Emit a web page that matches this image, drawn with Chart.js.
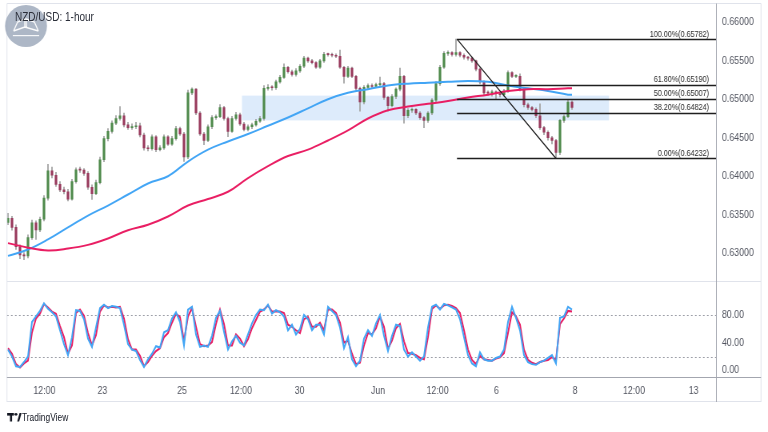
<!DOCTYPE html>
<html><head><meta charset="utf-8">
<script src="https://cdn.jsdelivr.net/npm/chart.js@4.4.0/dist/chart.umd.min.js"></script>
<style>
html,body{margin:0;padding:0;background:#fff;width:768px;height:432px;overflow:hidden;}
#wrap{position:absolute;left:0;top:0;width:960px;height:432px;transform:scaleX(0.8);transform-origin:0 0;}
#c1{position:absolute;left:0;top:0;}
#c2{position:absolute;left:0;top:282px;}
#title{position:absolute;left:18.75px;top:11px;font-size:12.5px;line-height:12.5px;font-family:'Liberation Sans',Arial,sans-serif;color:#2a2e39;white-space:nowrap;}
#tv{position:absolute;left:27.5px;top:412px;font-size:10.5px;line-height:10.5px;font-family:'Liberation Sans',Arial,sans-serif;color:#131722;white-space:nowrap;}
</style></head>
<body>
<div id="wrap">
<canvas id="c1" width="960" height="282"></canvas>
<canvas id="c2" width="960" height="150"></canvas>
<div id="title">NZD/USD: 1-hour</div>
<div id="tv">TradingView</div>
</div>
<script>
// ---------- DATA ----------
const open = [0.63400,0.63454,0.63337,0.63085,0.62978,0.62966,0.63204,0.63397,0.63305,0.63442,
0.63716,0.64072,0.64013,0.63895,0.63823,0.63799,0.63704,0.63930,0.64084,0.64080,
0.64037,0.63858,0.63775,0.63918,0.64215,0.64489,0.64584,0.64691,0.64751,0.64787,
0.64668,0.64632,0.64644,0.64656,0.64537,0.64370,0.64358,0.64513,0.64346,0.64370,
0.64513,0.64418,0.64489,0.64620,0.64549,0.64251,0.65084,0.65132,0.64822,0.64549,
0.64465,0.64644,0.64763,0.64775,0.64894,0.64751,0.64584,0.64751,0.64798,0.64679,
0.64608,0.64644,0.64668,0.64715,0.64751,0.65143,0.65155,0.65150,0.65227,0.65286,
0.65417,0.65358,0.65322,0.65370,0.65429,0.65536,0.65500,0.65477,0.65417,0.65500,
0.65584,0.65580,0.65572,0.65560,0.65417,0.65298,0.65405,0.65298,0.65143,0.64965,
0.65155,0.65179,0.65167,0.65191,0.65203,0.65025,0.64917,0.65036,0.65132,0.65298,
0.64787,0.64858,0.64870,0.64822,0.64763,0.64727,0.64822,0.64989,0.65203,0.65417,
0.65596,0.65608,0.65584,0.65608,0.65572,0.65548,0.65536,0.65500,0.65393,0.65227,
0.65084,0.65080,0.65096,0.65072,0.65060,0.65108,0.65346,0.65298,0.65300,0.65132,
0.64929,0.64894,0.64870,0.64787,0.64632,0.64572,0.64501,0.64465,0.64310,0.64727,
0.64775,0.64965];
const high = [0.63520,0.63480,0.63370,0.63110,0.63010,0.63240,0.63430,0.63420,0.63470,0.63750,
0.64156,0.64120,0.64050,0.63930,0.63860,0.63830,0.63960,0.64110,0.64120,0.64100,
0.64060,0.63890,0.63950,0.64250,0.64520,0.64620,0.64720,0.64790,0.64905,0.64820,
0.64700,0.64680,0.64700,0.64690,0.64560,0.64400,0.64540,0.64530,0.64400,0.64540,
0.64530,0.64520,0.64650,0.64640,0.64570,0.65120,0.65150,0.65140,0.64840,0.64570,
0.64670,0.64790,0.64800,0.64930,0.64910,0.64770,0.64780,0.64830,0.64820,0.64700,
0.64670,0.64690,0.64740,0.64780,0.65180,0.65190,0.65180,0.65250,0.65310,0.65460,
0.65430,0.65380,0.65400,0.65450,0.65560,0.65550,0.65520,0.65490,0.65520,0.65610,
0.65600,0.65600,0.65590,0.65640,0.65430,0.65430,0.65420,0.65310,0.65160,0.65180,
0.65200,0.65200,0.65210,0.65290,0.65220,0.65040,0.65060,0.65150,0.65405,0.65310,
0.64880,0.64890,0.64880,0.64840,0.64780,0.64840,0.65010,0.65230,0.65440,0.65620,
0.65630,0.65620,0.65782,0.65620,0.65590,0.65560,0.65550,0.65510,0.65410,0.65240,
0.65110,0.65120,0.65110,0.65090,0.65130,0.65370,0.65360,0.65320,0.65330,0.65150,
0.64950,0.64910,0.64890,0.64940,0.64650,0.64590,0.64520,0.64480,0.64740,0.64800,
0.65001,0.64980];
const low = [0.63370,0.63300,0.63050,0.62930,0.62918,0.62940,0.63180,0.63180,0.63280,0.63420,
0.63690,0.63980,0.63870,0.63800,0.63770,0.63680,0.63690,0.63910,0.64050,0.64010,
0.63830,0.63700,0.63760,0.63900,0.64190,0.64460,0.64560,0.64670,0.64730,0.64640,
0.64610,0.64610,0.64620,0.64510,0.64340,0.64330,0.64340,0.64320,0.64330,0.64350,
0.64400,0.64400,0.64470,0.64530,0.64192,0.64230,0.65060,0.64800,0.64530,0.64410,
0.64450,0.64620,0.64740,0.64760,0.64730,0.64515,0.64570,0.64730,0.64660,0.64590,
0.64590,0.64620,0.64650,0.64700,0.64730,0.65120,0.65120,0.65130,0.65210,0.65270,
0.65340,0.65300,0.65300,0.65350,0.65410,0.65480,0.65460,0.65400,0.65400,0.65480,
0.65560,0.65550,0.65540,0.65400,0.65210,0.65280,0.65280,0.65120,0.64846,0.64940,
0.65130,0.65140,0.65150,0.65170,0.65000,0.64846,0.64900,0.65010,0.65110,0.64691,
0.64760,0.64830,0.64800,0.64740,0.64632,0.64700,0.64800,0.64970,0.65180,0.65400,
0.65570,0.65560,0.65560,0.65550,0.65520,0.65510,0.65480,0.65370,0.65200,0.65060,
0.65050,0.65040,0.65000,0.65030,0.65040,0.65090,0.65280,0.65280,0.65110,0.64900,
0.64870,0.64850,0.64760,0.64610,0.64540,0.64470,0.64420,0.64232,0.64280,0.64700,
0.64760,0.64870];
const close = [0.63454,0.63337,0.63085,0.62978,0.62966,0.63204,0.63397,0.63305,0.63442,0.63716,
0.64072,0.64013,0.63895,0.63823,0.63799,0.63704,0.63930,0.64084,0.64080,0.64037,
0.63858,0.63775,0.63918,0.64215,0.64489,0.64584,0.64691,0.64751,0.64787,0.64668,
0.64632,0.64644,0.64656,0.64537,0.64370,0.64358,0.64513,0.64346,0.64370,0.64513,
0.64418,0.64489,0.64620,0.64549,0.64251,0.65084,0.65132,0.64822,0.64549,0.64465,
0.64644,0.64763,0.64775,0.64894,0.64751,0.64584,0.64751,0.64798,0.64679,0.64608,
0.64644,0.64668,0.64715,0.64751,0.65143,0.65155,0.65150,0.65227,0.65286,0.65417,
0.65358,0.65322,0.65370,0.65429,0.65536,0.65500,0.65477,0.65417,0.65500,0.65584,
0.65580,0.65572,0.65560,0.65417,0.65298,0.65405,0.65298,0.65143,0.64965,0.65155,
0.65179,0.65167,0.65191,0.65203,0.65025,0.64917,0.65036,0.65132,0.65298,0.64787,
0.64858,0.64870,0.64822,0.64763,0.64727,0.64822,0.64989,0.65203,0.65417,0.65596,
0.65608,0.65584,0.65608,0.65572,0.65548,0.65536,0.65500,0.65393,0.65227,0.65084,
0.65080,0.65096,0.65072,0.65060,0.65108,0.65346,0.65298,0.65300,0.65132,0.64929,
0.64894,0.64870,0.64787,0.64632,0.64572,0.64501,0.64465,0.64310,0.64727,0.64775,
0.64965,0.64894];

// moving averages, read at these bar positions
const maBars = [0,5,10,15,20,25,30,35,40,45,50,55,60,65,70,75,80,85,90,95,100,105,110,115,120,125,130,135,140,141];
const blueMA = [0.62966,0.63049,0.63180,0.63337,0.63489,0.63620,0.63763,0.63906,0.64001,0.64192,0.64346,0.64453,0.64549,0.64656,0.64763,0.64882,0.65001,0.65084,0.65132,0.65179,0.65203,0.65215,0.65227,0.65239,0.65227,0.65179,0.65143,0.65108,0.65060,0.65060];
const pinkMA = [0.63132,0.63073,0.63037,0.63061,0.63109,0.63192,0.63299,0.63370,0.63478,0.63620,0.63704,0.63799,0.63977,0.64132,0.64263,0.64346,0.64465,0.64596,0.64751,0.64858,0.64906,0.64941,0.64977,0.65025,0.65060,0.65108,0.65132,0.65132,0.65143,0.65143];

// stochastic
const stochK = [30,20,6,5,12,20,70,78,86,97,
89,84,78,58,38,22,48,87,86,74,
46,34,62,90,95,90,93,92,90,66,
38,30,28,15,5,16,24,35,33,55,
58,75,84,70,36,88,92,52,34,36,
34,50,76,86,56,30,42,50,40,36,
52,68,80,88,87,95,82,87,84,78,
58,66,52,60,80,74,58,66,66,52,
92,86,80,62,32,48,16,6,14,46,
58,50,68,80,50,28,50,66,64,30,
20,26,20,14,20,62,92,95,88,96,
94,91,88,74,48,22,10,6,26,16,
14,14,18,20,30,70,92,76,58,22,
12,9,8,12,14,18,22,10,76,78,
92,88];
const stochD = [32,24,9,4,10,14,55,75,82,96,
91,85,82,64,48,24,36,83,88,79,
54,36,51,85,94,91,92,91,92,75,
45,30,30,21,6,12,21,28,32,48,
54,69,82,77,42,78,90,63,38,35,
36,41,67,88,67,36,36,52,46,35,
45,61,73,85,88,94,85,85,85,83,
66,63,58,54,74,77,63,63,69,58,
88,88,83,69,40,43,24,9,11,36,
54,52,61,78,63,31,43,61,67,42,
25,24,22,18,16,48,89,94,89,94,
95,93,90,83,58,30,15,9,21,16,
15,14,17,19,25,54,84,78,66,30,
15,11,9,12,14,15,19,15,67,75,
86,85];

// axes
const priceTicks = [0.630,0.635,0.640,0.645,0.650,0.655,0.660];
const stochTicks = [0,40,80];
const stochBands = [80,20];
const xTickPos = [9.1,23.6,43.5,58.25,72.9,92.5,107.4,122.1,141.75,156.5,171.4];
const xTickLabels = ['12:00','23','25','12:00','30','Jun','12:00','6','8','12:00','13'];

// fibonacci retracement
const fibStartBar = 112.25, fibEndBar = 137;
const fibLevels = [0.65782,0.65190,0.65007,0.64824,0.64232];
const fibPct = ['100.00%','61.80%','50.00%','38.20%','0.00%'];
// highlighted zone
const zoneBars = [58.5,150.25];
const zonePrices = [0.64726,0.65048];

// ---------- CHARTS ----------
const X_MIN = -0.25, X_MAX = 177;
const bars = close.map((_, i) => i);
const UP = '#4f8a4b', DN = '#983a5c';
const bodies = bars.map(i => ({x:i, y:[open[i], close[i]]}));
const wicks = bars.map(i => ({x:i, y:[low[i], high[i]]}));
const bodyColors = bars.map(i => close[i] >= open[i] ? UP : DN);
const bluePts = maBars.map((b,k) => ({x:b, y:blueMA[k]}));
const pinkPts = maBars.map((b,k) => ({x:b, y:pinkMA[k]}));
const kPts = bars.map(i => ({x:i, y:stochK[i]}));
const dPts = bars.map(i => ({x:i, y:stochD[i]}));

const FONT = "'Liberation Sans', Arial, sans-serif";
const AXIS_COL = '#50535e';
const LIGHT = '#e0e3eb';
const MID = '#a3a6af';

const decor1 = {
  id:'decor1',
  beforeDatasetsDraw(chart){
    const {ctx, scales:{x,y}} = chart;
    ctx.save();
    ctx.fillStyle = 'rgb(221,235,251)';
    const x0 = x.getPixelForValue(zoneBars[0]), x1 = x.getPixelForValue(zoneBars[1]);
    const y0 = y.getPixelForValue(zonePrices[1]), y1 = y.getPixelForValue(zonePrices[0]);
    ctx.fillRect(x0, y0, x1-x0, y1-y0);
    ctx.restore();
  },
  afterDatasetsDraw(chart){
    const {ctx, chartArea, scales:{x,y}} = chart;
    ctx.save();
    ctx.strokeStyle = '#1f1f1f';
    ctx.lineWidth = 1.6;
    const xs = x.getPixelForValue(fibStartBar);
    fibLevels.forEach((lv, k) => {
      const py = Math.round(y.getPixelForValue(lv)) + 0.5;
      ctx.beginPath(); ctx.moveTo(xs, py); ctx.lineTo(chartArea.right, py); ctx.stroke();
    });
    ctx.lineWidth = 1.3;
    ctx.beginPath();
    ctx.moveTo(xs, y.getPixelForValue(fibLevels[0]));
    ctx.lineTo(x.getPixelForValue(fibEndBar), y.getPixelForValue(fibLevels[4]));
    ctx.stroke();
    ctx.fillStyle = '#2a2a2a';
    ctx.font = '9px ' + FONT;
    ctx.textAlign = 'right';
    ctx.textBaseline = 'bottom';
    fibLevels.forEach((lv, k) => {
      const py = y.getPixelForValue(lv);
      ctx.fillText(fibPct[k] + '(' + lv.toFixed(5) + ')', 886.25, py - 0.5);
    });
    ctx.restore();
  },
  afterDraw(chart){
    const {ctx, chartArea} = chart;
    ctx.save();
    ctx.lineWidth = 1;
    ctx.strokeStyle = LIGHT;
    ctx.beginPath();
    ctx.moveTo(8.75, 3.5); ctx.lineTo(951.25, 3.5);
    ctx.moveTo(8.75, 3.5); ctx.lineTo(8.75, 282);
    ctx.moveTo(951.25, 3.5); ctx.lineTo(951.25, 282);
    ctx.moveTo(8.75, 281.5); ctx.lineTo(951.25, 281.5);
    ctx.stroke();
    ctx.strokeStyle = MID;
    ctx.beginPath();
    ctx.moveTo(chartArea.right + 0.5, 3.5); ctx.lineTo(chartArea.right + 0.5, 282);
    ctx.stroke();
    // watermark badge
    ctx.fillStyle = 'rgba(150,163,182,0.78)';
    ctx.beginPath();
    ctx.ellipse(32.5, 26, 26.25, 21, 0, 0, Math.PI*2);
    ctx.fill();
    ctx.strokeStyle = 'rgba(255,255,255,0.95)';
    ctx.lineWidth = 1.4;
    ctx.beginPath();
    ctx.moveTo(17, 31); ctx.lineTo(31, 27); ctx.lineTo(48, 31);
    ctx.moveTo(17, 31); ctx.lineTo(22, 22); ctx.lineTo(31, 19); ctx.lineTo(31, 27);
    ctx.moveTo(48, 31); ctx.lineTo(43, 22); ctx.lineTo(33, 19); ctx.lineTo(33, 27);
    ctx.stroke();
    ctx.fillStyle = 'rgba(255,255,255,0.9)';
    ctx.fillRect(16, 35, 33, 1.2);
    ctx.restore();
  }
};

new Chart(document.getElementById('c1'), {
  type:'bar',
  data:{datasets:[
    {type:'line', data:pinkPts, borderColor:'#e91e63', borderWidth:2, pointRadius:0, tension:0.4, order:1},
    {type:'line', data:bluePts, borderColor:'#42a5f5', borderWidth:2, pointRadius:0, tension:0.4, order:2},
    {data:bodies, backgroundColor:bodyColors, barThickness:2.5, minBarLength:1, grouped:false, order:3},
    {data:wicks, backgroundColor:'#a8a8a8', barThickness:1.25, grouped:false, order:4}
  ]},
  options:{
    responsive:false, animation:false, devicePixelRatio:1,
    layout:{padding:{left:8.75, right:8.75, top:4, bottom:1}},
    plugins:{legend:{display:false}, tooltip:{enabled:false}},
    scales:{
      x:{type:'linear', min:X_MIN, max:X_MAX, display:false, offset:false},
      y:{position:'right', min:0.6281, max:0.66107,
         grid:{display:false, drawTicks:false}, border:{display:false},
         ticks:{padding:7.5, font:{size:11, family:FONT}, color:AXIS_COL, callback:v => Number(v).toFixed(5)},
         afterBuildTicks:s => { s.ticks = priceTicks.map(v => ({value:v})); },
         afterFit:s => { s.width = 56.25; }}
    }
  },
  plugins:[decor1]
});

const decor2 = {
  id:'decor2',
  beforeDatasetsDraw(chart){
    const {ctx, chartArea, scales:{y}} = chart;
    ctx.save();
    ctx.strokeStyle = '#9598a1';
    ctx.lineWidth = 1;
    ctx.setLineDash([2,3]);
    stochBands.forEach(v => {
      const py = Math.round(y.getPixelForValue(v)) + 0.5;
      ctx.beginPath(); ctx.moveTo(chartArea.left, py); ctx.lineTo(chartArea.right, py); ctx.stroke();
    });
    ctx.restore();
  },
  afterDraw(chart){
    const {ctx, chartArea} = chart;
    ctx.save();
    ctx.lineWidth = 1;
    ctx.strokeStyle = LIGHT;
    ctx.beginPath();
    ctx.moveTo(8.75, 0); ctx.lineTo(8.75, 120);
    ctx.moveTo(951.25, 0); ctx.lineTo(951.25, 120);
    ctx.moveTo(8.75, 119.5); ctx.lineTo(951.25, 119.5);
    ctx.stroke();
    ctx.strokeStyle = MID;
    ctx.beginPath();
    ctx.moveTo(chartArea.right + 0.5, 0); ctx.lineTo(chartArea.right + 0.5, 120);
    ctx.moveTo(8.75, 95.5); ctx.lineTo(951.25, 95.5);
    ctx.stroke();
    // TradingView mark
    ctx.fillStyle = '#131722';
    ctx.fillRect(9, 131, 8.5, 2.6);
    ctx.fillRect(12.5, 131, 2.6, 8.5);
    ctx.beginPath(); ctx.ellipse(20, 132.3, 1.7, 1.4, 0, 0, Math.PI*2); ctx.fill();
    ctx.beginPath(); ctx.moveTo(21.5, 139.5); ctx.lineTo(24.5, 131); ctx.lineTo(27, 131); ctx.lineTo(24, 139.5); ctx.closePath(); ctx.fill();
    ctx.restore();
  }
};

new Chart(document.getElementById('c2'), {
  type:'line',
  data:{datasets:[
    {data:kPts, borderColor:'#42a5f5', borderWidth:2, pointRadius:0, tension:0},
    {data:dPts, borderColor:'#e91e63', borderWidth:2, pointRadius:0, tension:0}
  ]},
  options:{
    responsive:false, animation:false, devicePixelRatio:1,
    layout:{padding:{left:8.75, right:8.75, top:0, bottom:30}},
    plugins:{legend:{display:false}, tooltip:{enabled:false}},
    scales:{
      x:{type:'linear', min:X_MIN, max:X_MAX, offset:false,
         grid:{display:false, drawTicks:false}, border:{display:false},
         ticks:{padding:7, autoSkip:false, maxRotation:0, font:{size:11, family:FONT}, color:AXIS_COL,
                callback:(v, i) => xTickLabels[i]},
         afterBuildTicks:s => { s.ticks = xTickPos.map(v => ({value:v})); },
         afterFit:s => { s.height = 25; }},
      y:{position:'right', min:-9.6, max:107.4,
         grid:{display:false, drawTicks:false}, border:{display:false},
         ticks:{padding:7.5, font:{size:11, family:FONT}, color:AXIS_COL, callback:v => Number(v).toFixed(2)},
         afterBuildTicks:s => { s.ticks = stochTicks.map(v => ({value:v})); },
         afterFit:s => { s.width = 56.25; }}
    }
  },
  plugins:[decor2]
});
</script>
</body></html>
